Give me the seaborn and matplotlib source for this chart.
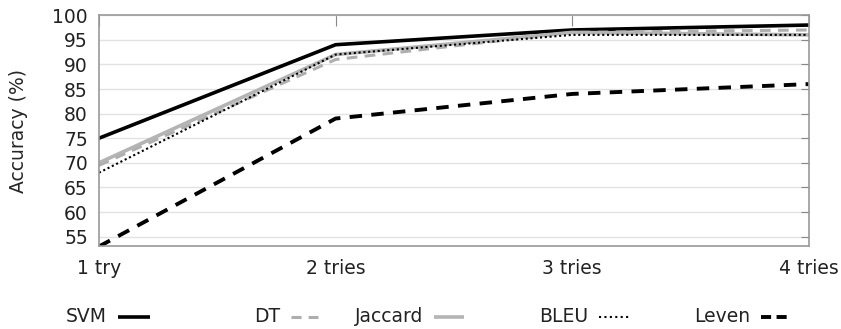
import pandas as pd
import matplotlib
matplotlib.use("Agg")
import matplotlib.pyplot as plt
from matplotlib.lines import Line2D
import seaborn as sns

tries = ['1 try', '2 tries', '3 tries', '4 tries']
methods = ['SVM', 'DT', 'Jaccard', 'BLEU', 'Leven']
svm = [75, 94, 97, 98]
dt = [69.5, 91, 96.5, 97]
jaccard = [70, 92, 96.5, 96]
bleu = [68, 92, 96, 96]
leven = [53, 79, 84, 86]
yticks = [55, 60, 65, 70, 75, 80, 85, 90, 95, 100]

rows = []
for name, vals in zip(methods, [svm, dt, jaccard, bleu, leven]):
    for t, v in zip(tries, vals):
        rows.append({'tries': t, 'acc': v, 'method': name})
df = pd.DataFrame(rows)

sns.set_style('white')
plt.rcParams['font.family'] = ['DejaVu Sans']
plt.rcParams['font.size'] = 13.5
plt.rcParams['text.color'] = '#222222'
plt.rcParams['xtick.labelcolor'] = '#222222'
plt.rcParams['ytick.labelcolor'] = '#222222'

palette = {'SVM': 'black', 'DT': '#aeaeae', 'Jaccard': '#b4b4b4', 'BLEU': 'black', 'Leven': 'black'}
dashes = {'SVM': '', 'DT': (3.5, 2.4), 'Jaccard': '', 'BLEU': (1, 1.3), 'Leven': (3.2, 2.4)}
sizes = {'SVM': 2.6, 'DT': 2.2, 'Jaccard': 2.6, 'BLEU': 1.5, 'Leven': 2.8}
# shorter patterns for the key samples
key_dashes = {'SVM': None, 'DT': (3.3, 2.3), 'Jaccard': None, 'BLEU': (1, 1.6), 'Leven': (2.6, 1.4)}
key_len = {'SVM': 32, 'DT': 27, 'Jaccard': 30, 'BLEU': 30, 'Leven': 26}

fig = plt.figure(figsize=(8.41, 3.29), dpi=100)
ax = fig.add_axes([0.1177, 0.2508, 0.844, 0.703])
sns.lineplot(data=df, x='tries', y='acc', hue='method', style='method', size='method',
             palette=palette, dashes=dashes, sizes=sizes, hue_order=methods,
             style_order=methods, size_order=methods, ax=ax, sort=False, legend=False)

ax.set_xlim(0, 3)
ax.set_ylim(53, 100)
ax.set_yticks(yticks)
ax.set_xticks(range(len(tries)))
ax.set_xticklabels(tries)
ax.set_xlabel('')
ax.set_ylabel('Accuracy (%)', fontsize=13.5)
ax.yaxis.set_label_coords(-0.1, 0.5)
ax.yaxis.grid(True, color='#e2e2e2', linewidth=1)
ax.set_axisbelow(True)
ax.tick_params(axis='x', direction='in', length=8, top=True, pad=9, color='#888888')
ax.tick_params(axis='y', direction='in', length=6, right=True, pad=8, color='#888888')
for s in ax.spines.values():
    s.set_color('#999999')
    s.set_linewidth(1.2)

# gnuplot-style key: label right-aligned, sample to its right
text_right = [107, 280, 423, 588, 750]
W, H = 841, 329
key_y = 1 - 317 / H
for name, xr in zip(methods, text_right):
    fig.text(xr / W, key_y, name, ha='right', va='center', fontsize=13.5)
    x0, x1 = (xr + 11) / W, (xr + 11 + key_len[name]) / W
    seg = Line2D([x0, x1], [key_y, key_y], transform=fig.transFigure,
                 color=palette[name], linewidth=sizes[name], solid_capstyle='butt',
                 dash_capstyle='butt')
    if key_dashes[name]:
        seg.set_dashes(key_dashes[name])
    fig.add_artist(seg)

fig.savefig('out.png', dpi=100)
